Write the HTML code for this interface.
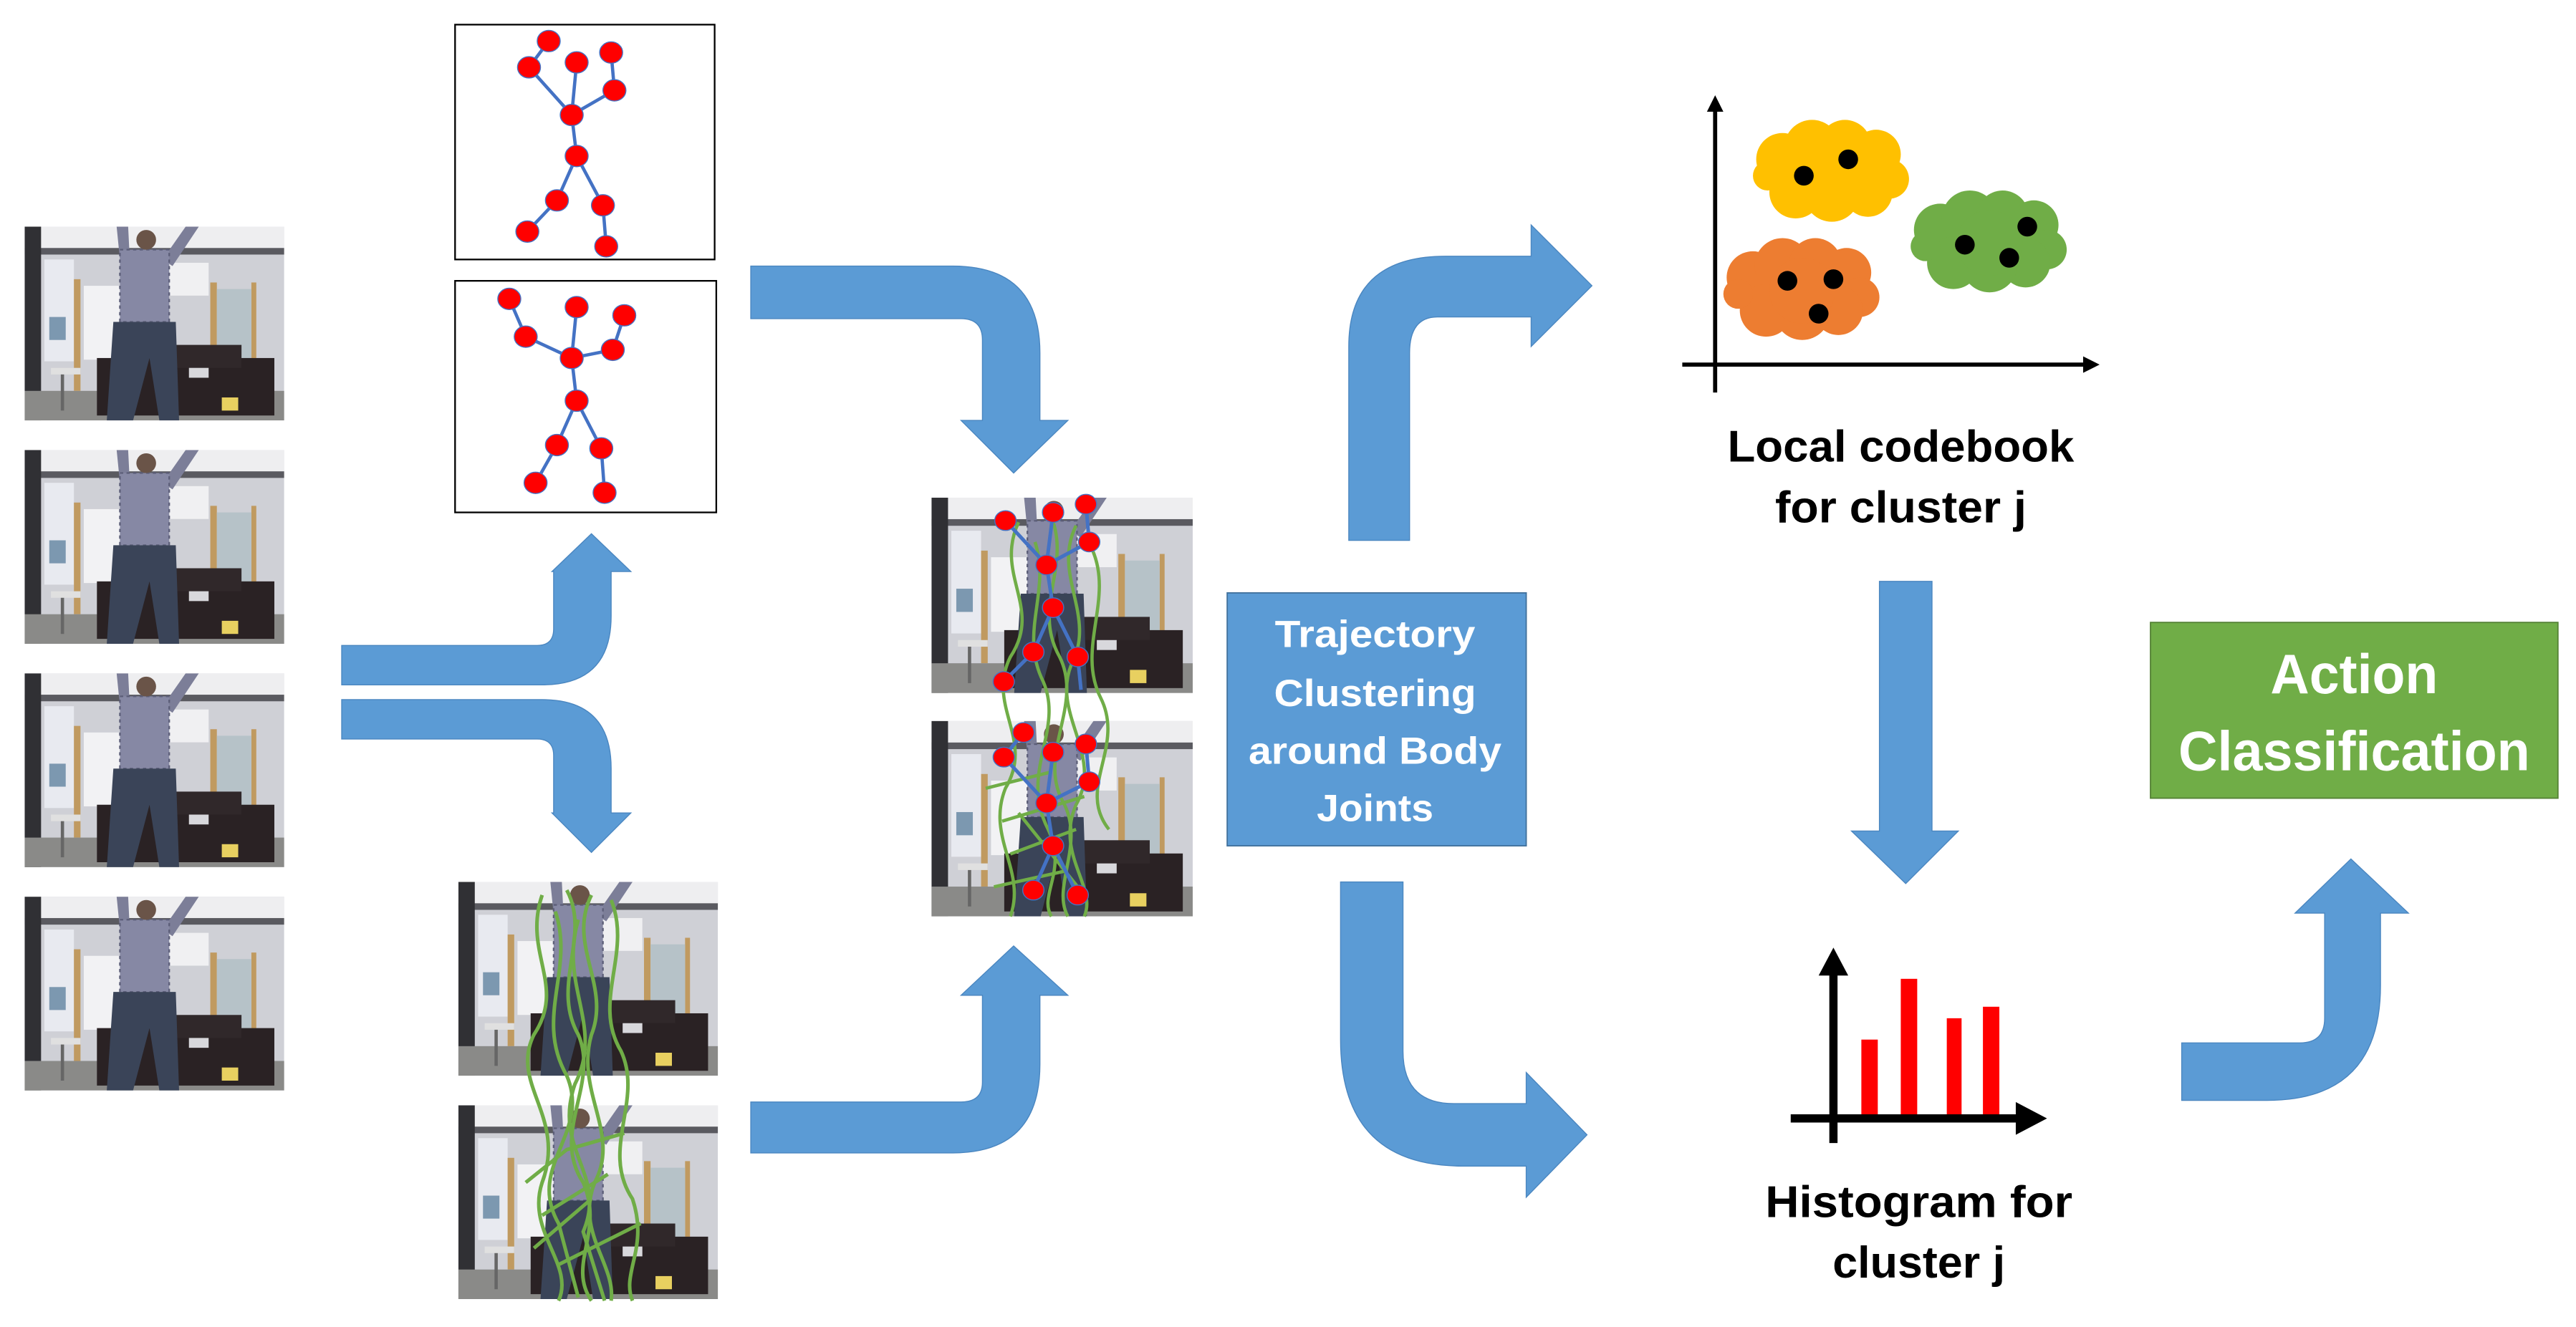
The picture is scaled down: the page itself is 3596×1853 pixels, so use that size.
<!DOCTYPE html>
<html><head><meta charset="utf-8"><style>
html,body{margin:0;padding:0;background:#fff;}
svg{display:block;}
text{font-family:"Liberation Sans",sans-serif;font-weight:bold;}
</style></head><body>
<svg width="3596" height="1853" viewBox="0 0 1568 808" preserveAspectRatio="none" xmlns="http://www.w3.org/2000/svg">
<defs>
<symbol id="photo" viewBox="0 0 158 118" preserveAspectRatio="none">
<rect width="158" height="118" fill="#cfd0d6"/>
<rect x="0" y="0" width="158" height="14" fill="#eeeef0"/>
<rect x="0" y="13" width="158" height="4" fill="#5a5a60"/>
<rect x="12" y="20" width="18" height="62" fill="#e8eaf0"/>
<rect x="36" y="36" width="22" height="45" fill="#f2f2f4"/>
<rect x="88" y="22" width="24" height="20" fill="#f0f0f2"/>
<rect x="30" y="32" width="4" height="68" fill="#c09a60"/>
<rect x="113" y="34" width="4" height="48" fill="#c09a60"/>
<rect x="138" y="34" width="3" height="48" fill="#c09a60"/>
<rect x="117" y="38" width="21" height="50" fill="#b6c2c8"/>
<rect x="0" y="0" width="10" height="118" fill="#303034"/>
<rect x="15" y="55" width="10" height="14" fill="#7c98b0"/>
<rect x="0" y="100" width="158" height="18" fill="#8a8a88"/>
<rect x="44" y="80" width="108" height="35" fill="#2a2224"/>
<rect x="88" y="72" width="44" height="14" fill="#30282a"/>
<rect x="100" y="86" width="12" height="6" fill="#d8d8dc"/>
<rect x="16" y="86" width="18" height="4" fill="#e0e0e0"/>
<rect x="22" y="90" width="2" height="22" fill="#666"/>
<path d="M56,0 L63,0 L64,20 L58,20 Z M84,20 L98,0 L106,0 L90,24 Z" fill="#7c7e98"/>
<rect x="58" y="14" width="30" height="44" fill="#8688a4"/>
<path d="M58,14 h30 v44 h-30z" fill="none" stroke="#5c5e78" stroke-width="1" stroke-dasharray="2 2"/>
<circle cx="74" cy="8" r="6" fill="#6a5448"/>
<path d="M54,58 L92,58 L94,118 L82,118 L76,80 L66,118 L50,118 Z" fill="#3a4458"/>
<rect x="120" y="104" width="10" height="8" fill="#e8d060"/>
</symbol>
<g id="cloud">
<circle cx="-30" cy="-8" r="16"/><circle cx="-12" cy="-15" r="17"/><circle cx="8" cy="-16" r="16"/><circle cx="27" cy="-11" r="15"/><circle cx="35" cy="4" r="12"/><circle cx="22" cy="12" r="15"/><circle cx="0" cy="13" r="17"/><circle cx="-22" cy="12" r="16"/><circle cx="-39" cy="2" r="9"/><circle cx="0" cy="0" r="20"/>
</g>
</defs>

<use href="#photo" x="15" y="138" width="158" height="118"/>
<use href="#photo" x="15" y="274" width="158" height="118"/>
<use href="#photo" x="15" y="410" width="158" height="118"/>
<use href="#photo" x="15" y="546" width="158" height="118"/>

<rect x="277" y="15" width="158" height="143" fill="#fff" stroke="#000" stroke-width="1"/>
<rect x="277" y="171" width="159" height="141" fill="#fff" stroke="#000" stroke-width="1"/>
<g stroke="#4472c4" stroke-width="2" fill="none">
<path d="M322,41 L348,70 M351,38 L348,70 L374,55 L372,32 M334,25 L322,41 M348,70 L351,95 L339,122 L321,141 M351,95 L367,125 L369,150"/>
<path d="M310,182 L320,205 L348,218 M351,187 L348,218 L373,213 L380,192 M348,218 L351,244 L339,271 L326,294 M351,244 L366,273 L368,300"/>
</g>
<g fill="#f00" stroke="#4472c4" stroke-width="0.6">
<ellipse cx="334" cy="25" rx="7" ry="6.5"/><ellipse cx="322" cy="41" rx="7" ry="6.5"/><ellipse cx="351" cy="38" rx="7" ry="6.5"/><ellipse cx="372" cy="32" rx="7" ry="6.5"/><ellipse cx="374" cy="55" rx="7" ry="6.5"/><ellipse cx="348" cy="70" rx="7" ry="6.5"/><ellipse cx="351" cy="95" rx="7" ry="6.5"/><ellipse cx="339" cy="122" rx="7" ry="6.5"/><ellipse cx="367" cy="125" rx="7" ry="6.5"/><ellipse cx="321" cy="141" rx="7" ry="6.5"/><ellipse cx="369" cy="150" rx="7" ry="6.5"/>
<ellipse cx="310" cy="182" rx="7" ry="6.5"/><ellipse cx="320" cy="205" rx="7" ry="6.5"/><ellipse cx="351" cy="187" rx="7" ry="6.5"/><ellipse cx="380" cy="192" rx="7" ry="6.5"/><ellipse cx="373" cy="213" rx="7" ry="6.5"/><ellipse cx="348" cy="218" rx="7" ry="6.5"/><ellipse cx="351" cy="244" rx="7" ry="6.5"/><ellipse cx="339" cy="271" rx="7" ry="6.5"/><ellipse cx="366" cy="273" rx="7" ry="6.5"/><ellipse cx="326" cy="294" rx="7" ry="6.5"/><ellipse cx="368" cy="300" rx="7" ry="6.5"/>
</g>

<use href="#photo" x="279" y="537" width="158" height="118"/>
<use href="#photo" x="279" y="673" width="158" height="118"/>
<g stroke="#70ad47" stroke-width="2.2" fill="none">
<path d="M330,545 C318,580 345,600 325,630 C310,660 345,680 330,720 C320,750 350,770 340,792"/>
<path d="M345,542 C360,570 335,600 352,630 C365,660 335,690 355,720 C368,750 345,770 360,792"/>
<path d="M360,545 C345,575 372,600 360,630 C350,665 378,690 362,720 C350,750 375,770 372,792"/>
<path d="M372,548 C385,580 360,610 378,640 C392,670 365,700 385,730 C395,760 378,775 385,792"/>
<path d="M338,555 C350,590 325,620 345,655 C360,690 320,710 340,745 L352,790"/>
<path d="M352,560 C340,600 368,625 350,660 C336,700 370,715 355,750 L368,792"/>
<path d="M320,720 L345,700 L380,690 M330,740 L370,715 M325,760 L360,730 M340,770 L390,745"/>
</g>

<use href="#photo" x="567" y="303" width="159" height="119"/>
<use href="#photo" x="567" y="439" width="159" height="119"/>
<g stroke="#70ad47" stroke-width="2" fill="none">
<path d="M620,318 C605,350 635,370 615,400 C600,430 630,450 612,480 C600,510 625,530 615,558"/>
<path d="M640,315 C652,345 628,370 645,400 C660,430 630,460 648,490 C660,515 640,540 650,558"/>
<path d="M655,320 C640,350 668,375 652,405 C640,435 672,460 655,490 C642,520 668,540 660,558"/>
<path d="M630,330 C640,360 620,385 635,415 C648,445 620,470 638,505 C650,530 632,545 640,558"/>
<path d="M665,335 C678,365 655,395 670,425 C685,455 655,480 675,505"/>
<path d="M600,480 L640,470 M610,500 L660,485 M615,520 L655,505 M605,540 L650,530 M620,495 L660,545"/>
</g>
<g stroke="#4472c4" stroke-width="2.2" fill="none">
<path d="M612,317 L637,344 M641,312 L637,344 L663,330 L661,307 M637,344 L641,370 L629,397 L611,415 M641,370 L656,400 L658,420"/>
<path d="M623,446 L611,461 M611,461 L637,489 M641,458 L637,489 L663,476 L661,453 M637,489 L641,515 L629,542 M641,515 L656,545"/>
</g>
<g fill="#f00" stroke="#4472c4" stroke-width="0.6">
<ellipse cx="612" cy="317" rx="6.5" ry="6"/><ellipse cx="641" cy="312" rx="6.5" ry="6"/><ellipse cx="661" cy="307" rx="6.5" ry="6"/><ellipse cx="663" cy="330" rx="6.5" ry="6"/><ellipse cx="637" cy="344" rx="6.5" ry="6"/><ellipse cx="641" cy="370" rx="6.5" ry="6"/><ellipse cx="629" cy="397" rx="6.5" ry="6"/><ellipse cx="656" cy="400" rx="6.5" ry="6"/><ellipse cx="611" cy="415" rx="6.5" ry="6"/>
<ellipse cx="623" cy="446" rx="6.5" ry="6"/><ellipse cx="641" cy="458" rx="6.5" ry="6"/><ellipse cx="661" cy="453" rx="6.5" ry="6"/><ellipse cx="611" cy="461" rx="6.5" ry="6"/><ellipse cx="663" cy="476" rx="6.5" ry="6"/><ellipse cx="637" cy="489" rx="6.5" ry="6"/><ellipse cx="641" cy="515" rx="6.5" ry="6"/><ellipse cx="629" cy="542" rx="6.5" ry="6"/><ellipse cx="656" cy="545" rx="6.5" ry="6"/>
</g>

<g fill="#5b9bd5" stroke="#4a86c0" stroke-width="0.6">
<path d="M208,393 L327,393 Q337,393 337,383 L337,348 L336,348 L360,325 L384,348 L372,348 L372,375 Q372,417 330,417 L208,417 Z"/>
<path d="M208,426 L330,426 Q372,426 372,468 L372,495 L384,495 L360,519 L336,495 L337,495 L337,460 Q337,450 327,450 L208,450 Z"/>
<path d="M457,162 L580,162 Q633,162 633,215 L633,256 L650,256 L617,288 L585,256 L598,256 L598,207 Q598,194 585,194 L457,194 Z"/>
<path d="M457,671 L585,671 Q598,671 598,659 L598,606 L585,606 L617,576 L650,606 L633,606 L633,648 Q633,702 580,702 L457,702 Z"/>
<path d="M821,329 L821,211 Q821,156 880,156 L932,156 L932,137 L969,174 L932,211 L932,193 L875,193 Q858,193 858,215 L858,329 Z"/>
<path d="M816,537 L854,537 L854,640 Q854,672 885,672 L929,672 L929,653 L966,691 L929,729 L929,710 L890,710 Q816,710 816,633 Z"/>
<path d="M1144,354 L1176,354 L1176,506 L1192,506 L1160,538 L1127,506 L1144,506 Z"/>
<path d="M1328,635 L1400,635 Q1415,635 1415,620 L1415,556 L1397,556 L1431,523 L1466,556 L1449,556 L1449,600 Q1449,670 1380,670 L1328,670 Z"/>
</g>

<rect x="747" y="361" width="182" height="154" fill="#5b9bd5" stroke="#41719c" stroke-width="0.8"/>
<g fill="#fff" font-size="23" text-anchor="middle">
<text x="837" y="394" textLength="122" lengthAdjust="spacingAndGlyphs">Trajectory</text>
<text x="837" y="430" textLength="123" lengthAdjust="spacingAndGlyphs">Clustering</text>
<text x="837" y="465" textLength="154" lengthAdjust="spacingAndGlyphs">around Body</text>
<text x="837" y="500" textLength="71" lengthAdjust="spacingAndGlyphs">Joints</text>
</g>
<rect x="1309" y="379" width="248" height="107" fill="#70ad47" stroke="#548235" stroke-width="0.8"/>
<g fill="#fff" font-size="34" text-anchor="middle">
<text x="1433" y="422" textLength="102" lengthAdjust="spacingAndGlyphs">Action</text>
<text x="1433" y="469" textLength="214" lengthAdjust="spacingAndGlyphs">Classification</text>
</g>

<use href="#cloud" x="1115" y="105" fill="#ffc000"/>
<use href="#cloud" x="1097" y="177" fill="#ed7d31"/>
<use href="#cloud" x="1211" y="148" fill="#70ad47"/>
<g fill="#000">
<circle cx="1098" cy="107" r="6"/><circle cx="1125" cy="97" r="6"/>
<circle cx="1088" cy="171" r="6"/><circle cx="1116" cy="170" r="6"/><circle cx="1107" cy="191" r="6"/>
<circle cx="1196" cy="149" r="6"/><circle cx="1234" cy="138" r="6"/><circle cx="1223" cy="157" r="6"/>
</g>
<g stroke="#000" stroke-width="2.5">
<line x1="1044" y1="66" x2="1044" y2="239"/>
<line x1="1024" y1="222" x2="1270" y2="222"/>
</g>
<path d="M1044,58 L1049,68 L1039,68 Z M1278,222 L1268,217 L1268,227 Z" fill="#000"/>
<g font-size="27" fill="#000" text-anchor="middle">
<text x="1157" y="281" textLength="211" lengthAdjust="spacingAndGlyphs">Local codebook</text>
<text x="1157" y="318" textLength="153" lengthAdjust="spacingAndGlyphs">for cluster j</text>
</g>

<g fill="#f00">
<rect x="1133" y="633" width="10" height="46"/><rect x="1157" y="596" width="10" height="83"/>
<rect x="1185" y="620" width="9" height="59"/><rect x="1207" y="613" width="10" height="66"/>
</g>
<g stroke="#000" stroke-width="5">
<line x1="1116" y1="592" x2="1116" y2="696"/>
<line x1="1090" y1="681" x2="1228" y2="681"/>
</g>
<path d="M1116,577 L1125,594 L1107,594 Z M1246,681 L1227,671 L1227,691 Z" fill="#000"/>
<g font-size="27" fill="#000" text-anchor="middle">
<text x="1168" y="741" textLength="187" lengthAdjust="spacingAndGlyphs">Histogram for</text>
<text x="1168" y="778" textLength="105" lengthAdjust="spacingAndGlyphs">cluster j</text>
</g>
</svg>
</body></html>
